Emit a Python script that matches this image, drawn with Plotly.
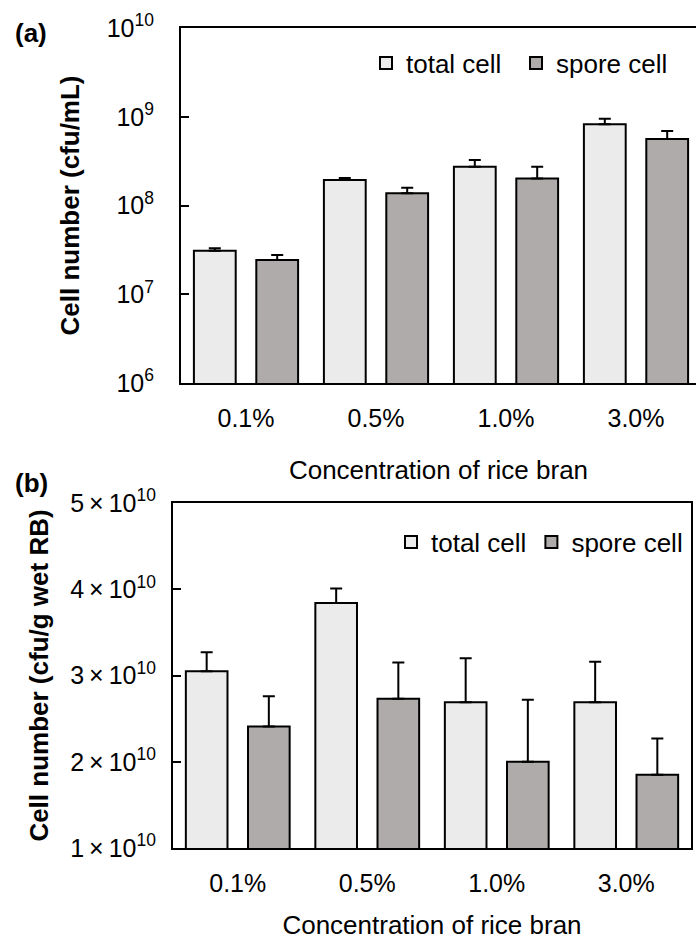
import plotly.graph_objects as go

categories = ["0.1%", "0.5%", "1.0%", "3.0%"]
a_total = [3.10e7, 1.94e8, 2.74e8, 8.22e8]
a_total_err = [0.19e7, 0.10e8, 0.52e8, 1.30e8]
a_spore = [2.43e7, 1.37e8, 2.01e8, 5.61e8]
a_spore_err = [0.34e7, 0.22e8, 0.73e8, 1.30e8]
b_total = [3.05e10, 3.84e10, 2.69e10, 2.69e10]
b_total_err = [0.22e10, 0.17e10, 0.51e10, 0.47e10]
b_spore = [2.41e10, 2.73e10, 2.00e10, 1.85e10]
b_spore_err = [0.35e10, 0.42e10, 0.72e10, 0.42e10]

a_tickvals = [1e6, 1e7, 1e8, 1e9, 1e10]
a_ticktext = ["10<sup>6</sup>", "10<sup>7</sup>", "10<sup>8</sup>", "10<sup>9</sup>", "10<sup>10</sup>"]
b_tickvals = [1e10, 2e10, 3e10, 4e10, 5e10]
b_ticktext = [f"{m}\u2009×\u200910<sup>10</sup>" for m in (1, 2, 3, 4, 5)]

FONT = "Liberation Sans, Arial, sans-serif"
TOTAL_C = "#EBEBEB"
SPORE_C = "#AFABAB"

W, H = 696, 940


def err(arr):
    return dict(type="data", array=arr, symmetric=False, arrayminus=[0] * len(arr),
                color="black", thickness=2, width=6)


fig = go.Figure()
fig.add_trace(go.Bar(x=categories, y=a_total, name="total cell", error_y=err(a_total_err),
                     marker=dict(color=TOTAL_C, line=dict(color="black", width=2)),
                     xaxis="x", yaxis="y", legend="legend"))
fig.add_trace(go.Bar(x=categories, y=a_spore, name="spore cell", error_y=err(a_spore_err),
                     marker=dict(color=SPORE_C, line=dict(color="black", width=2)),
                     xaxis="x", yaxis="y", legend="legend"))
fig.add_trace(go.Bar(x=categories, y=b_total, name="total cell", error_y=err(b_total_err),
                     marker=dict(color=TOTAL_C, line=dict(color="black", width=2)),
                     xaxis="x2", yaxis="y2", legend="legend2"))
fig.add_trace(go.Bar(x=categories, y=b_spore, name="spore cell", error_y=err(b_spore_err),
                     marker=dict(color=SPORE_C, line=dict(color="black", width=2)),
                     xaxis="x2", yaxis="y2", legend="legend2"))

axis_common = dict(showline=True, linecolor="black", linewidth=2, showgrid=False, zeroline=False,
                   automargin=False,
                   tickfont=dict(family=FONT, size=25, color="black"))

fig.update_layout(
    template="none",
    width=W, height=H,
    margin=dict(l=0, r=0, t=0, b=0, autoexpand=False),
    paper_bgcolor="white", plot_bgcolor="white",
    font=dict(family=FONT, size=25, color="black"),
    barmode="group", bargap=0.04, bargroupgap=0.33,
    xaxis=dict(**axis_common, domain=[181 / W, 1.0], anchor="y", type="category",
               range=[-0.5, 3.5 - 5 / 130], mirror=True, ticks="",
               ticklabelstandoff=12,
               title=dict(text="Concentration of rice bran", standoff=30,
                          font=dict(family=FONT, size=26, color="black"))),
    yaxis=dict(**axis_common, domain=[1 - 383 / H, 1 - 28 / H], anchor="x", type="log",
               range=[6, 10], tickvals=a_tickvals, ticktext=a_ticktext,
               ticks="inside", ticklen=8, tickwidth=2, tickcolor="black",
               ticklabelstandoff=20,
               title=dict(text="<b>Cell number (cfu/mL)</b>", standoff=20,
                          font=dict(family=FONT, size=26, color="black"))),
    xaxis2=dict(**axis_common, domain=[173 / W, 691 / W], anchor="y2", type="category",
                range=[-0.5, 3.5], mirror=True, ticks="",
                ticklabelstandoff=12,
                title=dict(text="Concentration of rice bran", standoff=30,
                           font=dict(family=FONT, size=26, color="black"))),
    yaxis2=dict(**axis_common, domain=[1 - 848 / H, 1 - 503 / H], anchor="x2",
                range=[1e10, 5e10], tickvals=b_tickvals, ticktext=b_ticktext,
                mirror=True,
                ticks="inside", ticklen=8, tickwidth=2, tickcolor="black",
                ticklabelstandoff=10,
                title=dict(text="<b>Cell number (cfu/g wet RB)</b>", standoff=14,
                           font=dict(family=FONT, size=26, color="black"))),
    legend=dict(orientation="h", x=366 / W, xanchor="left", y=1 - 63 / H, yanchor="middle",
                bgcolor="rgba(0,0,0,0)", font=dict(family=FONT, size=26, color="black"),
                entrywidth=105, entrywidthmode="pixels",
                itemclick=False),
    legend2=dict(orientation="h", x=391 / W, xanchor="left", y=1 - 542 / H, yanchor="middle",
                 bgcolor="rgba(0,0,0,0)", font=dict(family=FONT, size=26, color="black"),
                 itemclick=False),
    annotations=[
        dict(text="<b>(a)</b>", x=13 / W, y=1 - 33 / H, xref="paper", yref="paper",
             xanchor="left", yanchor="middle", showarrow=False,
             font=dict(family=FONT, size=26, color="black")),
        dict(text="<b>(b)</b>", x=13 / W, y=1 - 483 / H, xref="paper", yref="paper",
             xanchor="left", yanchor="middle", showarrow=False,
             font=dict(family=FONT, size=26, color="black")),
    ],
)

fig.write_html("out.html")
